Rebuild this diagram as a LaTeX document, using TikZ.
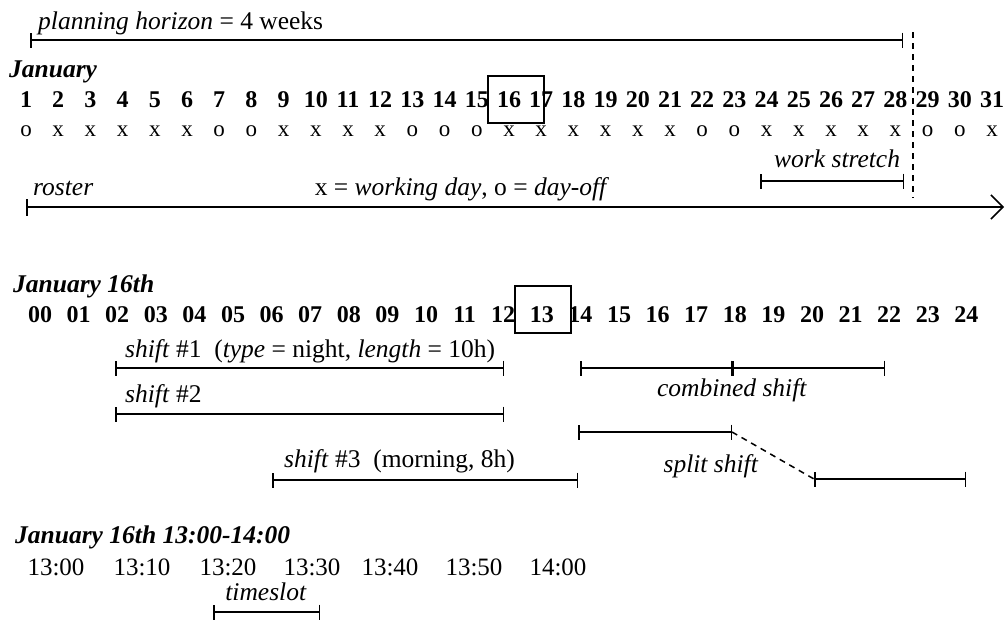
\documentclass[tikz,border=0pt]{standalone}
\usepackage{fontspec}
\setmainfont{Liberation Serif}
\usetikzlibrary{arrows.meta}
\begin{document}
\begin{tikzpicture}[x=1pt,y=-1pt,
  txt/.style={font=\fontsize{25.5}{30}\selectfont, inner sep=0pt},
  mk/.style={font=\fontsize{23}{28}\selectfont, inner sep=0pt},
  tm/.style={font=\fontsize{25}{30}\selectfont, inner sep=0pt},
  num/.style={font=\fontsize{24}{28}\selectfont\bfseries, inner sep=0pt},
  head/.style={font=\fontsize{25.5}{30}\selectfont\bfseries\itshape, inner sep=0pt, anchor=base west},
  lbl/.style={font=\fontsize{25.5}{30}\selectfont, inner sep=0pt, anchor=base west},
  seg/.style={line width=1.5pt, {Bar[width=15pt,line width=1.5pt]}-{Bar[width=15pt,line width=1.5pt]}},
  hl/.style={draw, line width=1.4pt, inner sep=0pt},
  dsh/.style={line width=1.5pt, dash pattern=on 6pt off 5pt}
]
\useasboundingbox (0,0) rectangle (1005,621);

% ---------- month level ----------
\node[lbl] (ph) at (38,29) {\textit{planning horizon} = 4 weeks};
\coordinate (phL) at (30,40);
\coordinate (phR) at (903,40);
\draw[seg] (phL) -- (phR);

\node[head] (jan) at (9,77) {January};

\foreach \d [count=\i] in {1,...,31}
  \node[num] (d\i) at ({26+32.2*(\i-1)},100) {\d};
\foreach \m [count=\i] in {o,x,x,x,x,x,o,o,x,x,x,x,o,o,o,x,x,x,x,x,x,o,o,x,x,x,x,x,o,o,x}
  \node[mk] (m\i) at ({26+32.2*(\i-1)},131) {\m};

\node[hl, minimum width=56pt, minimum height=47pt] (box16) at (516,99.5) {};

\coordinate (vtop) at (913,32);
\coordinate (vbot) at (913,198);
\draw[dsh] (vtop) -- (vbot);

\node[lbl] (ws) at (774,167) {\textit{work stretch}};
\coordinate (wsL) at (760,181);
\coordinate (wsR) at (904,181);
\draw[seg] (wsL) -- (wsR);

\node[lbl] (ros) at (33,195) {\textit{roster}};
\node[txt, anchor=base] (leg) at (462,195) {x = \textit{working day}, o = \textit{day-off}};
\coordinate (rL) at (26,207);
\coordinate (rR) at (1004,207);
\draw[line width=1.5pt, {Bar[width=17pt,line width=1.5pt]}-{Straight Barb[length=12pt,width=24pt,line width=1.5pt]}] (rL) -- (rR);

% ---------- day level ----------
\node[head] (j16) at (13,292) {January 16th};

\foreach \h [count=\i from 0] in {00,01,02,03,04,05,06,07,08,09,10,11,12,13,14,15,16,17,18,19,20,21,22,23,24}
  \node[num] (h\i) at ({40+38.6*\i},315) {\h};

\node[hl, minimum width=56pt, minimum height=47pt] (box13) at (543,309.5) {};

\node[lbl] (s1) at (125,357) {\textit{shift} \#1~~(\textit{type} = night, \textit{length} = 10h)};
\coordinate (s1L) at (115,368);
\coordinate (s1R) at (504,368);
\draw[seg] (s1L) -- (s1R);

\node[lbl] (s2) at (125,402) {\textit{shift} \#2};
\coordinate (s2L) at (115,414);
\coordinate (s2R) at (504,414);
\draw[seg] (s2L) -- (s2R);

\node[lbl] (s3) at (284,467) {\textit{shift} \#3~~(morning, 8h)};
\coordinate (s3L) at (272,480);
\coordinate (s3R) at (578,480);
\draw[seg] (s3L) -- (s3R);

\coordinate (cL) at (580,368);
\coordinate (cM) at (732,368);
\coordinate (cR) at (885,368);
\draw[seg] (cL) -- (cM);
\draw[seg] (cM) -- (cR);
\node[txt, anchor=base] (cs) at (732,396) {\textit{combined shift}};

\coordinate (spL) at (578,432);
\coordinate (spM) at (732,432);
\coordinate (spN) at (814,479);
\coordinate (spR) at (966,479);
\draw[seg] (spL) -- (spM);
\draw[dsh] (spM) -- (spN);
\draw[seg] (spN) -- (spR);
\node[txt, anchor=base] (ss) at (711,472) {\textit{split shift}};

% ---------- hour level ----------
\node[head] (j16h) at (15,543) {January 16th 13:00-14:00};
\foreach \t/\xx [count=\i] in {13:00/56,13:10/142,13:20/228,13:30/312,13:40/390,13:50/474,14:00/558}
  \node[tm] (t\i) at (\xx,567) {\t};

\node[txt, anchor=base] (tsl) at (266,600) {\textit{timeslot}};
\coordinate (tsL) at (213,612);
\coordinate (tsR) at (320,612);
\draw[seg] (tsL) -- (tsR);
\end{tikzpicture}
\end{document}
